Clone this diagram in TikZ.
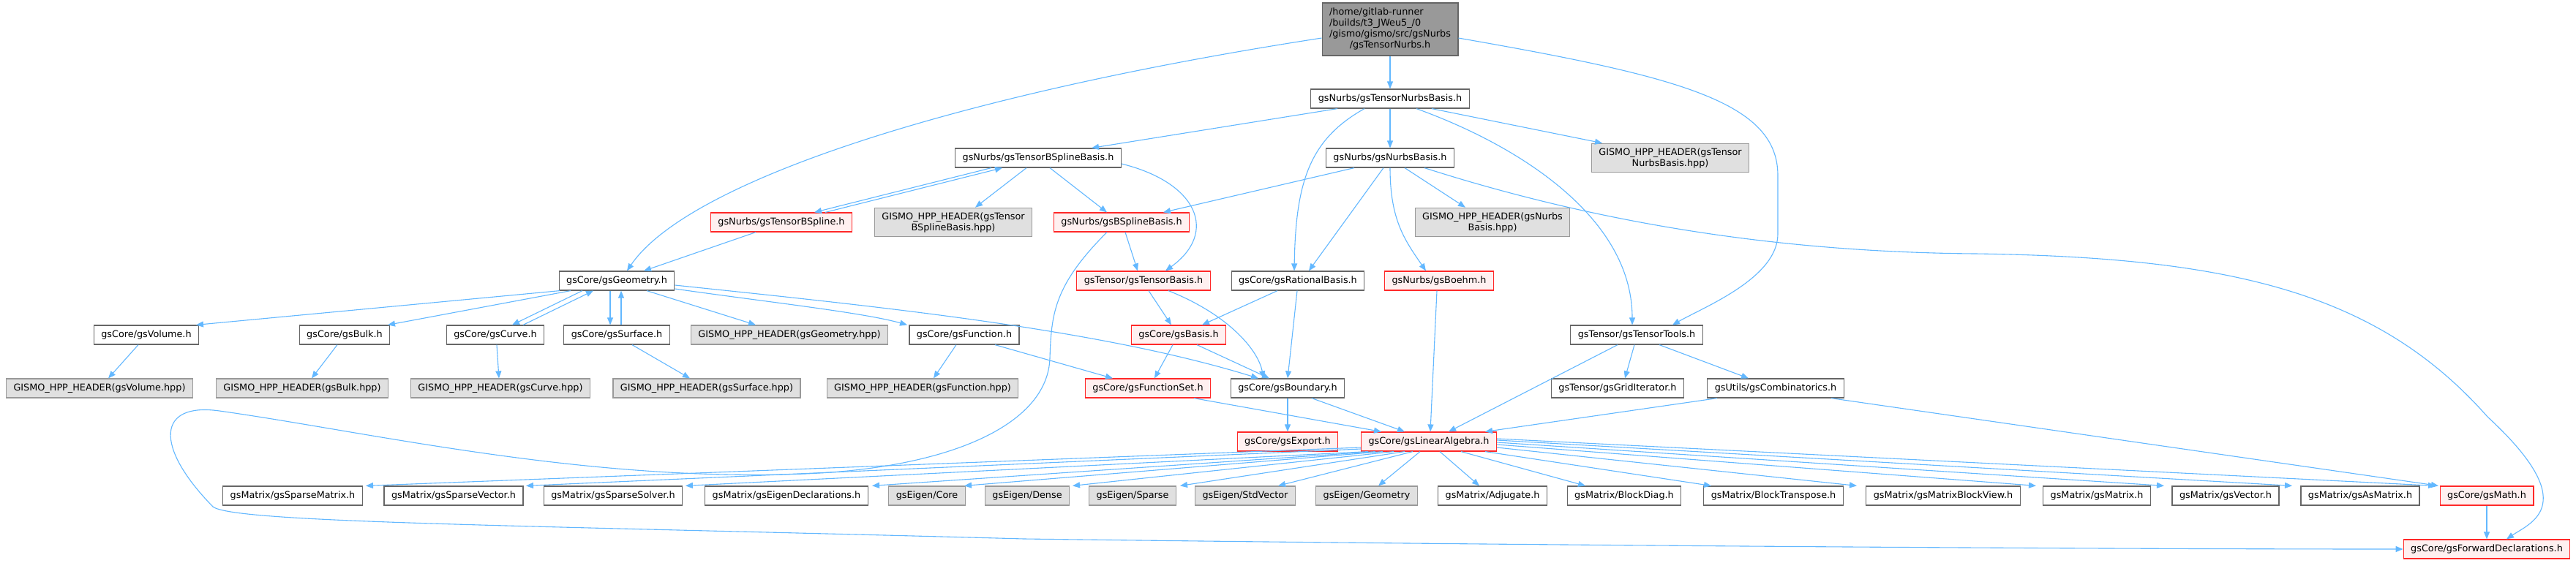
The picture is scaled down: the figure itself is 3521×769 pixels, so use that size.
\documentclass[tikz,border=0pt]{standalone}
\usepackage{fontspec}
\setmainfont{DejaVu Sans}
\usepackage{xcolor}
\definecolor{dxblue}{RGB}{99,184,255}
\definecolor{dxgrey40}{RGB}{102,102,102}
\definecolor{dxgrey60}{RGB}{153,153,153}
\definecolor{dxgrey87}{RGB}{224,224,224}
\definecolor{dxred}{RGB}{255,40,40}
\definecolor{dxpink}{RGB}{255,240,240}
\usetikzlibrary{arrows.meta}
\newcommand{\dxfont}{\fontsize{12.8}{15}\selectfont}
\tikzset{
  fnode/.style={draw=dxgrey40, fill=white, line width=1.2pt, font=\dxfont,
                inner xsep=10pt, inner ysep=6pt, minimum height=26pt, align=center},
  xnode/.style={fnode, draw=dxgrey60, fill=dxgrey87},
  rnode/.style={fnode, draw=dxred, fill=dxpink},
  rootnode/.style={fnode, fill=dxgrey60},
  dep/.style={draw=dxblue, line width=1.1pt, -{Triangle[length=10pt,width=8pt]}},
}

\begin{document}
\begin{tikzpicture}[x=1pt, y=-1pt]
\useasboundingbox (0,0) rectangle (3521,769);
\path[fill=white] (0,0) rectangle (3521,769);

% Top: the file itself and the nurbs headers
\node[rootnode] (root) at (1900,40) {\begin{tabular}{@{}l@{}}/home/gitlab-runner\\/builds/t3\_JWeu5\_/0\\/gismo/gismo/src/gsNurbs\\\multicolumn{1}{@{}c@{}}{/gsTensorNurbs.h}\end{tabular}};
\node[fnode] (tnb) at (1900,135) {gsNurbs/gsTensorNurbsBasis.h};
\node[fnode] (tbsb) at (1419,216) {gsNurbs/gsTensorBSplineBasis.h};
\node[fnode] (nurbsb) at (1900,216) {gsNurbs/gsNurbsBasis.h};
\node[xnode] (tnbhpp) at (2283,216) {GISMO\_HPP\_HEADER(gsTensor\\NurbsBasis.hpp)};
\node[rnode] (tbs) at (1068,304) {gsNurbs/gsTensorBSpline.h};
\node[xnode] (tbsbhpp) at (1303,304) {GISMO\_HPP\_HEADER(gsTensor\\BSplineBasis.hpp)};
\node[rnode] (bsb) at (1533,304) {gsNurbs/gsBSplineBasis.h};
\node[xnode] (nurbshpp) at (2040,304) {GISMO\_HPP\_HEADER(gsNurbs\\Basis.hpp)};

% Middle: geometry, bases and tensor tools
\node[fnode] (geo) at (843,384) {gsCore/gsGeometry.h};
\node[rnode] (tbasis) at (1563,384) {gsTensor/gsTensorBasis.h};
\node[fnode] (ratb) at (1774,384) {gsCore/gsRationalBasis.h};
\node[rnode] (boehm) at (1967,384) {gsNurbs/gsBoehm.h};
\node[fnode] (vol) at (200,458) {gsCore/gsVolume.h};
\node[fnode] (bulk) at (471,458) {gsCore/gsBulk.h};
\node[fnode] (curve) at (677,458) {gsCore/gsCurve.h};
\node[fnode] (surf) at (843,458) {gsCore/gsSurface.h};
\node[xnode] (geohpp) at (1079,458) {GISMO\_HPP\_HEADER(gsGeometry.hpp)};
\node[fnode] (func) at (1318,458) {gsCore/gsFunction.h};
\node[rnode] (basis) at (1611,458) {gsCore/gsBasis.h};
\node[fnode] (ttools) at (2237,458) {gsTensor/gsTensorTools.h};
\node[xnode] (volhpp) at (136,531) {GISMO\_HPP\_HEADER(gsVolume.hpp)};
\node[xnode] (bulkhpp) at (413,531) {GISMO\_HPP\_HEADER(gsBulk.hpp)};
\node[xnode] (curvehpp) at (684,531) {GISMO\_HPP\_HEADER(gsCurve.hpp)};
\node[xnode] (surfhpp) at (966,531) {GISMO\_HPP\_HEADER(gsSurface.hpp)};
\node[xnode] (funchpp) at (1261,531) {GISMO\_HPP\_HEADER(gsFunction.hpp)};
\node[rnode] (fset) at (1569,531) {gsCore/gsFunctionSet.h};
\node[fnode] (bdry) at (1760,531) {gsCore/gsBoundary.h};
\node[fnode] (griditer) at (2211,531) {gsTensor/gsGridIterator.h};
\node[fnode] (comb) at (2427,531) {gsUtils/gsCombinatorics.h};
\node[rnode] (export) at (1760,604) {gsCore/gsExport.h};
\node[rnode] (linalg) at (1953,604) {gsCore/gsLinearAlgebra.h};

% Bottom: matrix and eigen headers
\node[fnode] (spmat) at (400,678) {gsMatrix/gsSparseMatrix.h};
\node[fnode] (spvec) at (620,678) {gsMatrix/gsSparseVector.h};
\node[fnode] (spsolv) at (838,678) {gsMatrix/gsSparseSolver.h};
\node[fnode] (eigdecl) at (1075,678) {gsMatrix/gsEigenDeclarations.h};
\node[xnode] (ecore) at (1267,678) {gsEigen/Core};
\node[xnode] (edense) at (1404,678) {gsEigen/Dense};
\node[xnode] (esparse) at (1548,678) {gsEigen/Sparse};
\node[xnode] (estd) at (1702,678) {gsEigen/StdVector};
\node[xnode] (egeo) at (1868,678) {gsEigen/Geometry};
\node[fnode] (adjug) at (2040,678) {gsMatrix/Adjugate.h};
\node[fnode] (bdiag) at (2220,678) {gsMatrix/BlockDiag.h};
\node[fnode] (btrans) at (2424,678) {gsMatrix/BlockTranspose.h};
\node[fnode] (mbview) at (2656,678) {gsMatrix/gsMatrixBlockView.h};
\node[fnode] (matrix) at (2866,678) {gsMatrix/gsMatrix.h};
\node[fnode] (vector) at (3042,678) {gsMatrix/gsVector.h};
\node[fnode] (asmat) at (3226,678) {gsMatrix/gsAsMatrix.h};
\node[rnode] (math) at (3399,678) {gsCore/gsMath.h};
\node[rnode] (fwd) at (3399,751) {gsCore/gsForwardDeclarations.h};

% Edges from the top rows
\draw[dep] (root.south) -- (tnb.north);
\draw[dep] ([yshift=-12pt]root.west) .. controls +(-505,78) and +(83,-122) .. ([xshift=14pt]geo.north);
\draw[dep] ([yshift=-12pt]root.east) .. controls +(304,53) and +(0,-100) .. (2430,240) -- (2430,320) .. controls +(0,60) and +(44,-25) .. ([xshift=49pt]ttools.north);
\draw[dep] ([xshift=-72pt]tnb.south) -- ([xshift=73pt]tbsb.north);
\draw[dep] (tnb.south) -- (nurbsb.north);
\draw[dep] ([xshift=57pt]tnb.south) -- ([xshift=-93pt]tnbhpp.north);
\draw[dep] ([xshift=-35pt]tnb.south) .. controls +(-75,42) and +(2,-122) .. ([xshift=-5pt]ratb.north);
\draw[dep] ([xshift=36pt]tnb.south) .. controls +(144,52) and +(0,-145) .. ([xshift=-6pt]ttools.north);
\draw[dep] ([xshift=-49pt]nurbsb.south) -- ([xshift=57pt]bsb.north);
\draw[dep] ([xshift=-9pt]nurbsb.south) -- ([xshift=15pt]ratb.north);
\draw[dep] (nurbsb.south) .. controls +(0,71) and +(-29,-42) .. ([xshift=-18pt]boehm.north);
\draw[dep] ([xshift=20pt]nurbsb.south) -- ([xshift=-37pt]nurbshpp.north);
\draw[dep] ([xshift=47pt]nurbsb.south) .. controls +(253,81) and +(-250,-2) .. (2700,347) .. controls +(350,5) and +(-150,-170) .. (3400,570) .. controls +(130,120) and +(34,-23) .. ([xshift=27pt]fwd.north);
\draw[dep] ([xshift=-64pt]tbsb.south) -- ([xshift=45pt]tbs.north);
\draw[dep] ([xshift=60pt]tbs.north) -- ([xshift=-49pt]tbsb.south);
\draw[dep] ([xshift=-16pt]tbsb.south) -- ([xshift=30pt]tbsbhpp.north);
\draw[dep] ([xshift=16pt]tbsb.south) -- ([xshift=-20pt]bsb.north);
\draw[dep] ([yshift=-8pt]tbsb.east) .. controls +(105,26) and +(72,-52) .. ([xshift=30pt]tbasis.north);
\draw[dep] ([xshift=-35pt]tbs.south) -- ([xshift=37pt]geo.north);
\draw[dep] ([xshift=5pt]bsb.south) -- ([xshift=-8pt]tbasis.north);
\draw[dep] ([xshift=-20pt]bsb.south) .. controls +(-73,73) and +(2,-60) .. (1435,490) .. controls +(-3,90) and +(200,-8) .. (1100,648) .. controls +(-300,12) and +(200,28) .. (300,562) .. controls +(-85,-12) and +(-81,-83) .. (291,693) .. controls +(29,22) and +(-700,-19) .. (1400,737) .. controls +(600,8) and +(-480,0) .. (fwd.west);

% Edges from the geometry
\draw[dep] ([xshift=-78pt]geo.south) -- ([xshift=68pt]vol.north);
\draw[dep] ([xshift=-63pt]geo.south) -- ([xshift=59pt]bulk.north);
\draw[dep] ([xshift=-47pt]geo.south) -- ([xshift=23pt]curve.north);
\draw[dep] ([xshift=38pt]curve.north) -- ([xshift=-32pt]geo.south);
\draw[dep] ([xshift=-9pt]geo.south) -- ([xshift=-9pt]surf.north);
\draw[dep] ([xshift=6pt]surf.north) -- ([xshift=6pt]geo.south);
\draw[dep] ([xshift=41pt]geo.south) -- ([xshift=-46pt]geohpp.north);
\draw[dep] ([yshift=-11pt]geo.east) .. controls +(126,18) and +(-60,-17) .. ([xshift=-78pt]func.north);
\draw[dep] ([yshift=-6pt]geo.east) .. controls +(276,29) and +(-220,-68) .. ([xshift=-40pt]bdry.north);
\draw[dep] ([xshift=-11pt]vol.south) -- ([xshift=12pt]volhpp.north);
\draw[dep] ([xshift=-10pt]bulk.south) -- ([xshift=13pt]bulkhpp.north);
\draw[dep] ([xshift=2pt]curve.south) -- ([xshift=-2pt]curvehpp.north);
\draw[dep] ([xshift=21pt]surf.south) -- ([xshift=-23pt]surfhpp.north);
\draw[dep] ([xshift=-11pt]func.south) -- ([xshift=15pt]funchpp.north);
\draw[dep] ([xshift=42pt]func.south) -- ([xshift=-48pt]fset.north);

% Edges from the bases
\draw[dep] ([xshift=7pt]tbasis.south) -- ([xshift=-10pt]basis.north);
\draw[dep] ([xshift=34pt]tbasis.south) .. controls +(83,33) and +(-7,-38) .. ([xshift=-33pt]bdry.north);
\draw[dep] ([xshift=-28pt]ratb.south) -- ([xshift=32pt]basis.north);
\draw[dep] ([xshift=-1pt]ratb.south) -- (bdry.north);
\draw[dep] ([xshift=-3pt]boehm.south) -- ([xshift=2pt]linalg.north);
\draw[dep] ([xshift=-8pt]basis.south) -- ([xshift=9pt]fset.north);
\draw[dep] ([xshift=25pt]basis.south) -- ([xshift=-25pt]bdry.north);
\draw[dep] ([xshift=63pt]fset.south) -- ([xshift=-65pt]linalg.north);
\draw[dep] (bdry.south) -- (export.north);
\draw[dep] ([xshift=33pt]bdry.south) -- ([xshift=-33pt]linalg.north);
\draw[dep] ([xshift=-26pt]ttools.south) -- ([xshift=27pt]linalg.north);
\draw[dep] ([xshift=-3pt]ttools.south) -- ([xshift=10pt]griditer.north);
\draw[dep] ([xshift=31pt]ttools.south) -- ([xshift=-37pt]comb.north);
\draw[dep] ([xshift=-80pt]comb.south) -- ([xshift=77pt]linalg.north);
\draw[dep] ([xshift=76pt]comb.south) -- ([xshift=-66pt]math.north);

% Edges from the linear algebra header
\draw[dep] ([yshift=-8pt]linalg.west) -- ([xshift=100pt]spmat.north);
\draw[dep] ([yshift=-10pt]linalg.west) -- ([xshift=99pt]spvec.north);
\draw[dep] ([xshift=-83pt]linalg.south) -- ([xshift=99pt]spsolv.north);
\draw[dep] ([xshift=-73pt]linalg.south) -- ([xshift=117pt]eigdecl.north);
\draw[dep] ([xshift=-63pt]linalg.south) -- ([xshift=51pt]ecore.north);
\draw[dep] ([xshift=-48pt]linalg.south) -- ([xshift=62pt]edense.north);
\draw[dep] ([xshift=-33pt]linalg.south) -- ([xshift=65pt]esparse.north);
\draw[dep] ([xshift=-22pt]linalg.south) -- ([xshift=45pt]estd.north);
\draw[dep] ([xshift=-12pt]linalg.south) -- ([xshift=16pt]egeo.north);
\draw[dep] ([xshift=15pt]linalg.south) -- ([xshift=-18pt]adjug.north);
\draw[dep] ([xshift=44pt]linalg.south) -- ([xshift=-53pt]bdiag.north);
\draw[dep] ([xshift=77pt]linalg.south) -- ([xshift=-85pt]btrans.north);
\draw[dep] ([yshift=-8pt]linalg.east) -- ([xshift=-118pt]mbview.north);
\draw[dep] ([yshift=-4pt]linalg.east) -- ([xshift=-83pt]matrix.north);
\draw[dep] ([yshift=-1pt]linalg.east) -- ([xshift=-84pt]vector.north);
\draw[dep] ([yshift=2pt]linalg.east) -- ([xshift=-93pt]asmat.north);
\draw[dep] ([yshift=4pt]linalg.east) -- ([xshift=-70pt]math.north);
\draw[dep] (math.south) -- (fwd.north);
\end{tikzpicture}
\end{document}
